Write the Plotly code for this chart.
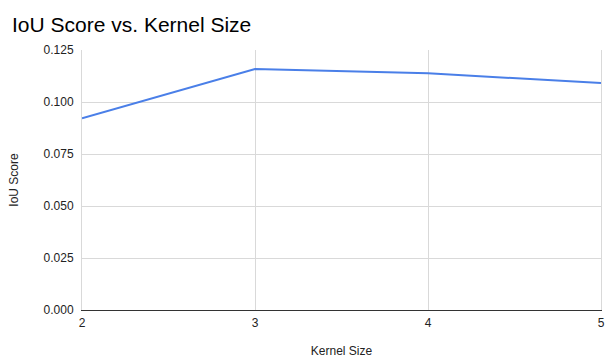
import plotly.graph_objects as go

kernel_size = [2, 3, 4, 5]
iou_score = [0.0922, 0.1159, 0.1138, 0.1091]

y_ticks = [0.0, 0.025, 0.05, 0.075, 0.1, 0.125]
y_tick_text = ["0.000", "0.025", "0.050", "0.075", "0.100", "0.125"]

font_family = "Liberation Sans"

fig = go.Figure()
fig.add_trace(go.Scatter(
    x=kernel_size, y=iou_score, mode="lines",
    line=dict(color="#4a7fe8", width=2),
    hoverinfo="x+y",
))

fig.update_layout(
    width=605, height=358,
    margin=dict(l=82, r=4, t=50, b=48),
    paper_bgcolor="white", plot_bgcolor="white",
    showlegend=False,
    font=dict(family=font_family, size=12, color="#222222"),
    title=dict(
        text="IoU Score vs. Kernel Size",
        font=dict(family=font_family, size=21, color="#000000"),
        x=12 / 605, xanchor="left", y=1 - 32 / 358, yanchor="bottom",
    ),
    xaxis=dict(
        range=[2, 5], tickvals=kernel_size, ticktext=[str(k) for k in kernel_size],
        showgrid=True, gridcolor="#d9d9d9", gridwidth=1,
        zeroline=False, showline=True, linecolor="#333333", linewidth=1,
        ticks="", ticklabelstandoff=2, automargin=False,
        title=dict(text="Kernel Size", standoff=27, font=dict(size=12, color="#222222")),
    ),
    yaxis=dict(
        range=[0, 0.125], tickvals=y_ticks, ticktext=y_tick_text,
        showgrid=True, gridcolor="#d9d9d9", gridwidth=1,
        showline=True, mirror=True, linecolor="#d9d9d9", linewidth=1,
        zeroline=False, ticks="", ticklabelstandoff=5, automargin=False,
        title=dict(text="IoU Score", standoff=22, font=dict(size=12, color="#222222")),
    ),
)

fig.write_html("out.html")
